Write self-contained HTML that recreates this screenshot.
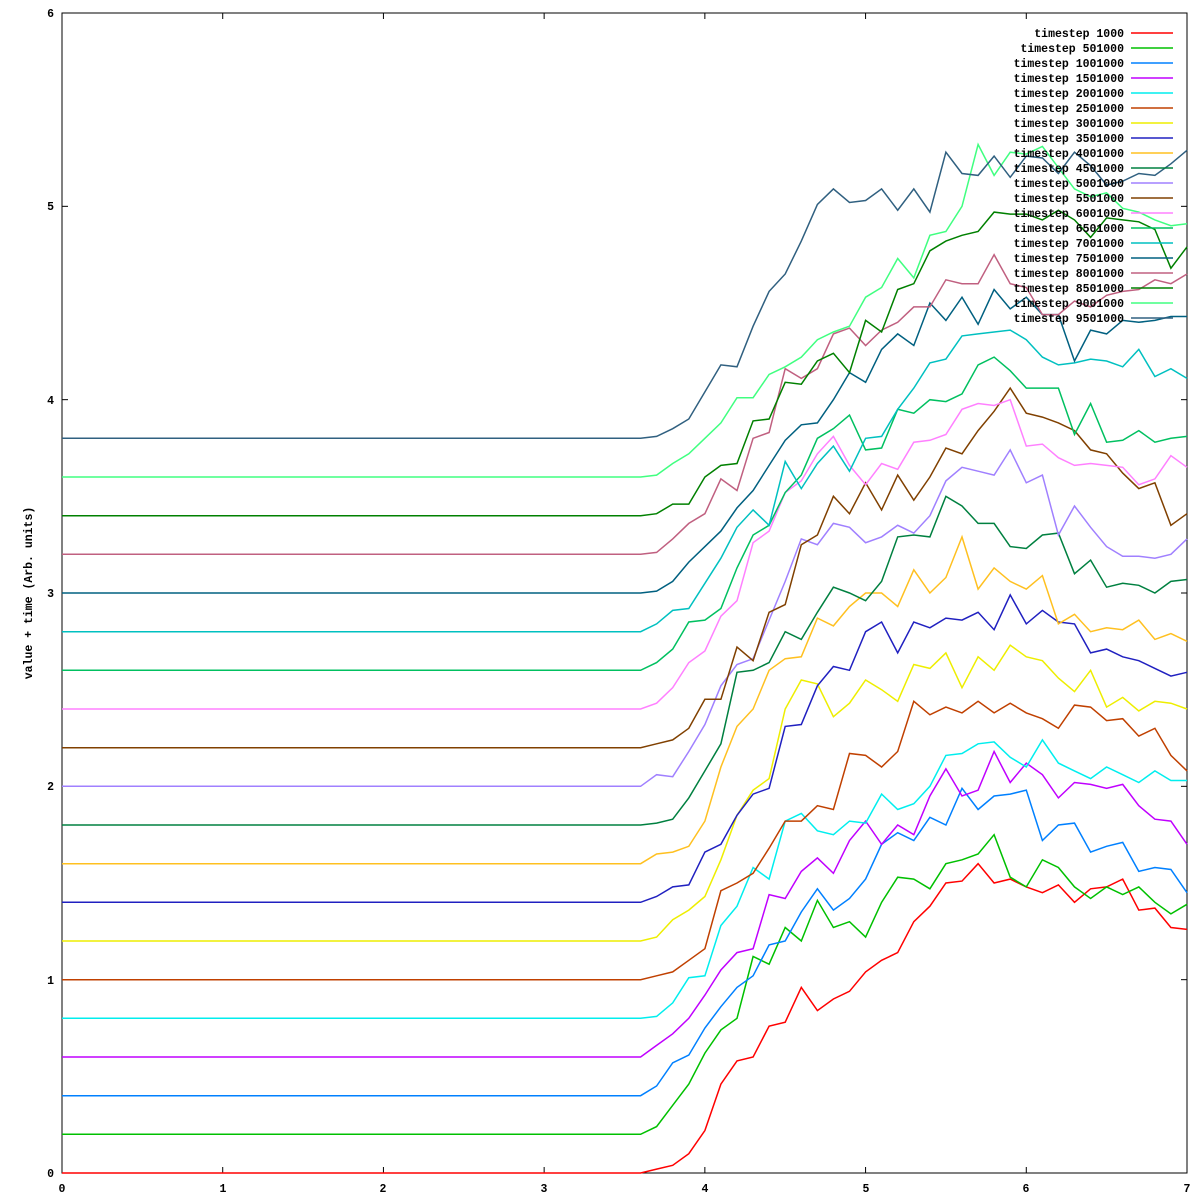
<!DOCTYPE html>
<html><head><meta charset="utf-8"><style>
html,body{margin:0;padding:0;background:#fff;}
svg{display:block;}
text{font-family:"Liberation Mono",monospace;font-size:11.5px;font-weight:bold;fill:#000;}
</style></head><body>
<svg id="s" width="1200" height="1200" xmlns="http://www.w3.org/2000/svg">
<rect x="62" y="13" width="1125" height="1160" fill="none" stroke="#000" stroke-width="1"/>
<g id="ticks" stroke="#000" stroke-width="1"></g>
<g text-anchor="end">
<text x="54" y="1177">0</text><text x="54" y="984">1</text><text x="54" y="790">2</text><text x="54" y="597">3</text><text x="54" y="404">4</text><text x="54" y="210">5</text><text x="54" y="17">6</text>
</g>
<g text-anchor="middle">
<text x="62" y="1192">0</text><text x="223" y="1192">1</text><text x="383" y="1192">2</text><text x="544" y="1192">3</text><text x="705" y="1192">4</text><text x="866" y="1192">5</text><text x="1026" y="1192">6</text><text x="1187" y="1192">7</text>
</g>
<text transform="translate(32,593) rotate(-90)" text-anchor="middle">value + time (Arb. units)</text>
<g id="series" fill="none" stroke-width="1.5"></g>
<g text-anchor="end">
<text x="1124" y="37">timestep 1000</text>
<text x="1124" y="52">timestep 501000</text>
<text x="1124" y="67">timestep 1001000</text>
<text x="1124" y="82">timestep 1501000</text>
<text x="1124" y="97">timestep 2001000</text>
<text x="1124" y="112">timestep 2501000</text>
<text x="1124" y="127">timestep 3001000</text>
<text x="1124" y="142">timestep 3501000</text>
<text x="1124" y="157">timestep 4001000</text>
<text x="1124" y="172">timestep 4501000</text>
<text x="1124" y="187">timestep 5001000</text>
<text x="1124" y="202">timestep 5501000</text>
<text x="1124" y="217">timestep 6001000</text>
<text x="1124" y="232">timestep 6501000</text>
<text x="1124" y="247">timestep 7001000</text>
<text x="1124" y="262">timestep 7501000</text>
<text x="1124" y="277">timestep 8001000</text>
<text x="1124" y="292">timestep 8501000</text>
<text x="1124" y="307">timestep 9001000</text>
<text x="1124" y="322">timestep 9501000</text>
</g>
<g id="leg" stroke-width="1.5"></g>
</svg>
<script>
var cols=["#ff0000","#00c000","#0080ff","#c000ff","#00eeee","#c04000","#eeee00","#2020c0","#ffc020","#008040","#a080ff","#804000","#ff80ff","#00c060","#00c0c0","#006080","#c06080","#008000","#40ff80","#306080"];
var D=[
[0,0.02,0.04,0.1,0.22,0.46,0.58,0.6,0.76,0.78,0.96,0.84,0.9,0.94,1.04,1.1,1.14,1.3,1.38,1.5,1.51,1.6,1.5,1.52,1.48,1.45,1.49,1.4,1.47,1.48,1.52,1.36,1.37,1.27,1.26],
[0.2,0.24,0.35,0.46,0.62,0.74,0.8,1.12,1.08,1.27,1.2,1.41,1.27,1.3,1.22,1.4,1.53,1.52,1.47,1.6,1.62,1.65,1.75,1.53,1.48,1.62,1.58,1.48,1.42,1.48,1.44,1.48,1.4,1.34,1.39],
[0.4,0.45,0.57,0.61,0.75,0.86,0.96,1.02,1.18,1.2,1.35,1.47,1.36,1.42,1.52,1.7,1.76,1.72,1.84,1.8,1.99,1.88,1.95,1.96,1.98,1.72,1.8,1.81,1.66,1.69,1.71,1.56,1.58,1.57,1.45],
[0.6,0.66,0.72,0.8,0.92,1.05,1.14,1.16,1.44,1.42,1.56,1.63,1.55,1.72,1.82,1.7,1.8,1.75,1.95,2.09,1.95,1.98,2.18,2.02,2.12,2.06,1.94,2.02,2.01,1.99,2.01,1.9,1.83,1.82,1.7],
[0.8,0.81,0.88,1.01,1.02,1.28,1.38,1.58,1.52,1.82,1.86,1.77,1.75,1.82,1.81,1.96,1.88,1.91,2.0,2.16,2.17,2.22,2.23,2.15,2.1,2.24,2.12,2.08,2.04,2.1,2.06,2.02,2.08,2.03,2.03],
[1.0,1.02,1.04,1.1,1.16,1.46,1.5,1.55,1.68,1.82,1.82,1.9,1.88,2.17,2.16,2.1,2.18,2.44,2.37,2.41,2.38,2.44,2.38,2.43,2.38,2.35,2.3,2.42,2.41,2.34,2.35,2.26,2.3,2.16,2.08],
[1.2,1.22,1.31,1.36,1.43,1.62,1.85,1.98,2.04,2.4,2.55,2.53,2.36,2.43,2.55,2.5,2.44,2.63,2.61,2.69,2.51,2.67,2.6,2.73,2.67,2.65,2.56,2.49,2.6,2.41,2.46,2.39,2.44,2.43,2.4],
[1.4,1.43,1.48,1.49,1.66,1.7,1.85,1.96,1.99,2.31,2.32,2.52,2.62,2.6,2.8,2.85,2.69,2.85,2.82,2.87,2.86,2.9,2.81,2.99,2.84,2.91,2.85,2.84,2.69,2.71,2.67,2.65,2.61,2.57,2.59],
[1.6,1.65,1.66,1.69,1.82,2.1,2.31,2.4,2.6,2.66,2.67,2.87,2.83,2.93,3.0,3.0,2.93,3.12,3.0,3.08,3.29,3.02,3.13,3.06,3.02,3.09,2.84,2.89,2.8,2.82,2.81,2.86,2.76,2.79,2.75],
[1.8,1.81,1.83,1.94,2.08,2.22,2.59,2.6,2.64,2.8,2.76,2.9,3.03,3.0,2.96,3.06,3.29,3.3,3.29,3.5,3.45,3.36,3.36,3.24,3.23,3.3,3.31,3.1,3.17,3.03,3.05,3.04,3.0,3.06,3.07],
[2.0,2.06,2.05,2.18,2.32,2.52,2.63,2.66,2.86,3.06,3.28,3.25,3.36,3.34,3.26,3.29,3.35,3.31,3.4,3.58,3.65,3.63,3.61,3.74,3.57,3.61,3.3,3.45,3.34,3.24,3.19,3.19,3.18,3.2,3.28],
[2.2,2.22,2.24,2.3,2.45,2.45,2.72,2.65,2.9,2.94,3.25,3.3,3.5,3.41,3.57,3.43,3.61,3.48,3.6,3.75,3.72,3.84,3.94,4.06,3.93,3.91,3.88,3.84,3.74,3.72,3.62,3.54,3.57,3.35,3.41],
[2.4,2.43,2.51,2.64,2.7,2.88,2.96,3.26,3.32,3.52,3.58,3.72,3.81,3.66,3.56,3.67,3.64,3.78,3.79,3.82,3.95,3.98,3.97,4.0,3.76,3.77,3.7,3.66,3.67,3.66,3.65,3.56,3.59,3.71,3.65],
[2.6,2.64,2.71,2.85,2.86,2.92,3.13,3.3,3.35,3.52,3.61,3.8,3.85,3.92,3.74,3.75,3.95,3.93,4.0,3.99,4.03,4.18,4.22,4.15,4.06,4.06,4.06,3.82,3.98,3.78,3.79,3.84,3.78,3.8,3.81],
[2.8,2.84,2.91,2.92,3.05,3.18,3.34,3.43,3.35,3.68,3.54,3.67,3.76,3.63,3.8,3.81,3.95,4.06,4.19,4.21,4.33,4.34,4.35,4.36,4.31,4.22,4.18,4.19,4.21,4.2,4.17,4.26,4.12,4.16,4.11],
[3.0,3.01,3.06,3.16,3.24,3.32,3.44,3.53,3.66,3.79,3.87,3.88,4.0,4.14,4.09,4.26,4.34,4.28,4.5,4.41,4.53,4.39,4.57,4.47,4.53,4.44,4.44,4.2,4.36,4.34,4.41,4.4,4.41,4.43,4.43],
[3.2,3.21,3.28,3.36,3.41,3.59,3.53,3.8,3.83,4.16,4.11,4.16,4.34,4.37,4.28,4.36,4.4,4.48,4.48,4.62,4.6,4.6,4.75,4.6,4.58,4.44,4.44,4.51,4.48,4.54,4.56,4.57,4.62,4.6,4.65],
[3.4,3.41,3.46,3.46,3.6,3.66,3.67,3.89,3.9,4.09,4.08,4.2,4.24,4.14,4.41,4.35,4.57,4.6,4.77,4.82,4.85,4.87,4.97,4.96,4.96,4.93,4.98,4.93,4.84,4.94,4.93,4.92,4.88,4.68,4.79],
[3.6,3.61,3.67,3.72,3.8,3.88,4.01,4.01,4.13,4.17,4.22,4.31,4.35,4.38,4.53,4.58,4.73,4.63,4.85,4.87,5.0,5.32,5.16,5.28,5.27,5.31,5.2,5.09,5.05,5.07,4.99,4.97,4.93,4.9,4.91],
[3.8,3.81,3.85,3.9,4.04,4.18,4.17,4.38,4.56,4.65,4.82,5.01,5.09,5.02,5.03,5.09,4.98,5.09,4.97,5.28,5.17,5.16,5.26,5.15,5.26,5.25,5.17,5.28,5.21,5.11,5.13,5.17,5.16,5.22,5.29]
];
var NS="http://www.w3.org/2000/svg";
function X(x){return 62+x*1125/7;}function Y(v){return 1173-v*1160/6;}
var g=document.getElementById("series"),lg=document.getElementById("leg");
D.forEach(function(a,i){
 var n=Math.min(a.length,35);
 var d="M"+X(0).toFixed(1)+","+Y(a[0]).toFixed(1);
 for(var k=0;k<n;k++){var x=3.6+k*(3.4/(n-1));d+=" L"+X(x).toFixed(1)+","+Y(a[k]).toFixed(1);}
 var p=document.createElementNS(NS,"path");p.setAttribute("d",d);p.setAttribute("stroke",cols[i]);g.appendChild(p);
 var l=document.createElementNS(NS,"line");var yy=33+15*i;
 l.setAttribute("x1",1131);l.setAttribute("x2",1173);l.setAttribute("y1",yy);l.setAttribute("y2",yy);l.setAttribute("stroke",cols[i]);lg.appendChild(l);
});
var t=document.getElementById("ticks"),s="";
for(var v=0;v<=6;v++){var y=Y(v);s+='<line x1="62" x2="68" y1="'+y+'" y2="'+y+'"/><line x1="1181" x2="1187" y1="'+y+'" y2="'+y+'"/>';}
for(var x=0;x<=7;x++){var xx=X(x);s+='<line x1="'+xx+'" x2="'+xx+'" y1="1173" y2="1167"/><line x1="'+xx+'" x2="'+xx+'" y1="13" y2="19"/>';}
t.innerHTML=s;
</script>
</body></html>
